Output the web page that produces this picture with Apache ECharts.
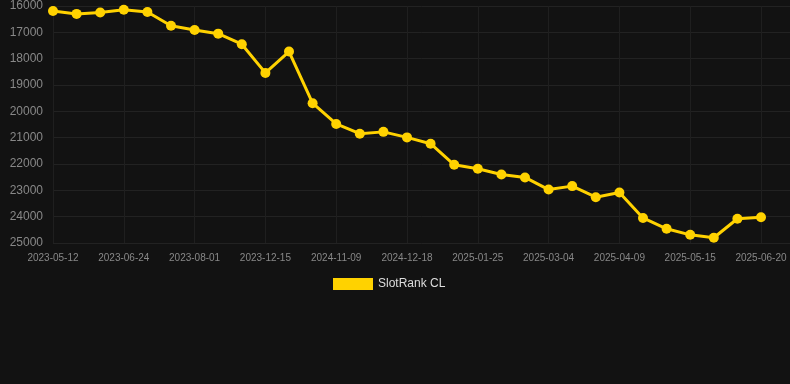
<!DOCTYPE html>
<html><head><meta charset="utf-8">
<script src="https://cdn.jsdelivr.net/npm/echarts@6/dist/echarts.min.js"></script>
<style>html,body{margin:0;padding:0;background:#121212;}#c{width:790px;height:384px;}</style>
</head><body><div id="c"></div>
<script>
const categories = ["2023-05-12","2023-05-26","2023-06-09","2023-06-24","2023-07-06","2023-07-19","2023-08-01","2023-09-15","2023-10-30","2023-12-15","2024-03-20","2024-07-25","2024-11-09","2024-11-22","2024-12-05","2024-12-18","2024-12-31","2025-01-12","2025-01-25","2025-02-06","2025-02-20","2025-03-04","2025-03-16","2025-03-28","2025-04-09","2025-04-21","2025-05-03","2025-05-15","2025-05-27","2025-06-08","2025-06-20"];
const seriesName = "SlotRank CL";
const values = [16190,16300,16250,16140,16230,16750,16910,17050,17450,18540,17730,19690,20480,20850,20780,20990,21230,22030,22180,22400,22510,22970,22840,23260,23080,24050,24460,24690,24800,24080,24020];
const yTicks = {min:16000, max:25000, interval:1000};

const font = 'Arial, Liberation Sans, sans-serif';
const chart = echarts.init(document.getElementById('c'));
chart.setOption({
  backgroundColor:'#121212',
  animation:false,
  grid:[
    {left:53,right:29,top:6,bottom:141,containLabel:false},
    {left:53,right:0,top:6,bottom:141,containLabel:false}
  ],
  legend:{data:[seriesName],top:273,left:328,itemWidth:40,itemHeight:12,icon:'rect',
    textStyle:{color:'#dddddd',fontSize:12,fontFamily:font}},
  xAxis:[
    {type:'category',gridIndex:0,data:categories,boundaryGap:false,
    axisLine:{show:false},axisTick:{show:false},
    axisLabel:{interval:2,color:'#888888',fontSize:10,margin:10,fontFamily:font},
    splitLine:{show:true,interval:2,lineStyle:{color:'#1f1f1f',width:1}}},
    {type:'value',gridIndex:1,min:0,max:1,show:false}
  ],
  yAxis:[
    {type:'value',gridIndex:0,inverse:true,min:yTicks.min,max:yTicks.max,interval:yTicks.interval,
    axisLine:{show:false},axisTick:{show:false},
    axisLabel:{color:'#888888',fontSize:12,margin:10,fontFamily:font,formatter:v=>String(v)},
    splitLine:{show:false}},
    {type:'value',gridIndex:1,inverse:true,min:yTicks.min,max:yTicks.max,interval:yTicks.interval,
    axisLine:{show:false},axisTick:{show:false},axisLabel:{show:false},
    splitLine:{show:true,lineStyle:{color:'#222222',width:1}}}
  ],
  series:[{name:seriesName,type:'line',xAxisIndex:0,yAxisIndex:0,data:values,symbol:'circle',symbolSize:10,
    lineStyle:{color:'#FFD200',width:3},itemStyle:{color:'#FFD200'}}]
});
</script></body></html>
